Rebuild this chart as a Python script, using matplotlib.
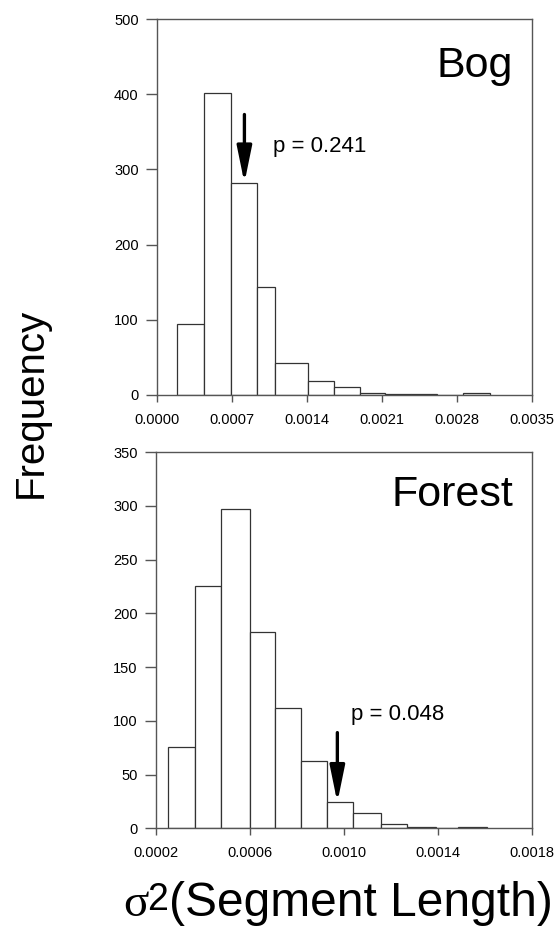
import numpy as np
import matplotlib
matplotlib.use("Agg")
import matplotlib.pyplot as plt
from matplotlib.ticker import FormatStrFormatter

plt.rcParams['font.family'] = ['Liberation Sans', 'DejaVu Sans']

# Bog histogram (bin edges and counts)
bog_edges  = [0.000187, 0.000441, 0.000691, 0.000933, 0.001104, 0.001415, 0.001655,
              0.001897, 0.002131, 0.002373, 0.002613, 0.002861, 0.003104]
bog_counts = [94, 402, 282, 143, 42, 18, 11, 3, 1, 1, 0, 2]
bog_p      = 0.241
bog_obs    = 0.000818

# Forest histogram
forest_edges  = [0.000254, 0.000366, 0.000478, 0.000600, 0.000706, 0.000820, 0.000928,
                 0.001039, 0.001159, 0.001271, 0.001394, 0.001487, 0.001608]
forest_counts = [76, 225, 297, 183, 112, 63, 24, 14, 4, 1, 0, 1]
forest_p      = 0.048
forest_obs    = 0.000973

bog_xticks    = [0.0, 0.0007, 0.0014, 0.0021, 0.0028, 0.0035]
forest_xticks = [0.0002, 0.0006, 0.0010, 0.0014, 0.0018]

W, H = 557, 933
fig = plt.figure(figsize=(W/100, H/100), dpi=100)

def px_axes(l, t, r, b):
    return fig.add_axes([l/W, 1-b/H, (r-l)/W, (b-t)/H])

ax1 = px_axes(156.7, 19, 532, 395)
ax2 = px_axes(155.7, 452, 531.7, 828.3)

def draw_hist(ax, edges, counts):
    e = np.array(edges)
    ax.bar(e[:-1], counts, width=np.diff(e), align='edge',
           color='white', edgecolor='#333333', linewidth=0.9)

def style(ax):
    for s in ax.spines.values():
        s.set_color('#555555')
        s.set_linewidth(1.0)
    ax.tick_params(axis='y', direction='out', length=8, width=1, color='#555555',
                   labelsize=10.5, pad=5)
    ax.tick_params(axis='x', direction='out', length=5, width=1, color='#555555',
                   labelsize=10.5, pad=8)
    ax.xaxis.set_major_formatter(FormatStrFormatter('%.4f'))

def arrow(ax, x, y0, y1):
    ax.annotate('', xy=(x, y1), xytext=(x, y0),
                arrowprops=dict(arrowstyle='-|>,head_length=2.2,head_width=0.45',
                                lw=2.4, color='black', shrinkA=0, shrinkB=0))

# top: Bog
draw_hist(ax1, bog_edges, bog_counts)
ax1.set_xlim(0, 0.0035)
ax1.set_ylim(0, 500)
ax1.set_xticks(bog_xticks)
ax1.set_yticks(range(0, 501, 100))
style(ax1)
arrow(ax1, bog_obs, 373, bog_counts[2])
ax1.text(0.001083, 330, 'p = %.3f' % bog_p, fontsize=16, va='center', ha='left')
ax1.text(0.95, 0.875, 'Bog', transform=ax1.transAxes, fontsize=31,
         ha='right', va='center')

# bottom: Forest
draw_hist(ax2, forest_edges, forest_counts)
ax2.set_xlim(0.0002, 0.0018)
ax2.set_ylim(0, 350)
ax2.set_xticks(forest_xticks)
ax2.set_yticks(range(0, 351, 50))
style(ax2)
arrow(ax2, forest_obs, 89, forest_counts[6])
ax2.text(0.001031, 106, 'p = %.3f' % forest_p, fontsize=16, va='center', ha='left')
ax2.text(0.95, 0.885, 'Forest', transform=ax2.transAxes, fontsize=31,
         ha='right', va='center')

fig.text(31/W, 1-403/H, 'Frequency', rotation=90, fontsize=29,
         ha='center', va='center')

# x label: serif sigma, raised 2, then the rest
base = 1 - 916/H
fig.text(123/W, base, 'σ', fontsize=34, family=['Liberation Serif', 'DejaVu Serif'],
         ha='left', va='baseline')
fig.text(147/W, base + 6/H, '2', fontsize=27, ha='left', va='baseline')
fig.text(169/W, base, '(Segment Length)', fontsize=34.5, ha='left', va='baseline')

fig.savefig('out.png', dpi=100)
